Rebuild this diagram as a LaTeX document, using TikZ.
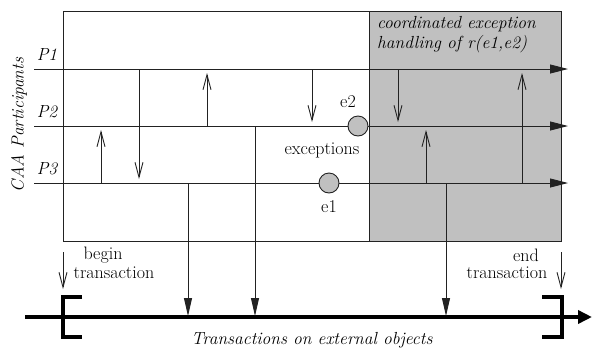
\documentclass[tikz,border=0pt]{standalone}
\usetikzlibrary{arrows.meta}
\definecolor{regiongray}{HTML}{C0C0C0}
\definecolor{linegray}{HTML}{222222}
\tikzset{
  thinline/.style={draw=linegray, line width=0.9pt},
  lifeline/.style={thinline, -{Triangle[length=18pt,width=9pt]}},
  msg/.style={thinline, -{Straight Barb[length=15pt,width=8pt,line width=0.9pt]}, shorten >=4pt},
  tomsg/.style={thinline, -{Triangle[length=18pt,width=8pt]}},
  thickbar/.style={draw=black, line width=4pt},
  bracket/.style={draw=black, line width=4pt, line join=miter, line cap=butt},
  exc/.style={circle, draw=linegray, fill=regiongray, line width=0.9pt, minimum size=20pt, inner sep=0pt},
  lbl/.style={inner sep=0pt},
  itl/.style={lbl, font=\fontsize{17.5}{20}\selectfont\itshape},
}
\begin{document}
\begin{tikzpicture}[x=1pt,y=-1pt, font=\fontsize{18}{20}\selectfont]
\useasboundingbox (0,0) rectangle (592,349);
% participants area and exception handling region
\draw[thinline] (63,11) rectangle (561,241);
\filldraw[thinline, fill=regiongray] (369,11) rectangle (561,241);
\node[itl, anchor=north west, align=left] (cehtext) at (377,16)
  {coordinated exception\\handling of r(e1,e2)};
% lifelines
\coordinate (p1s) at (34,69);  \coordinate (p1e) at (568,69);
\coordinate (p2s) at (34,126); \coordinate (p2e) at (568,126);
\coordinate (p3s) at (34,183); \coordinate (p3e) at (568,183);
\draw[lifeline] (p1s) -- (p1e);
\draw[lifeline] (p2s) -- (p2e);
\draw[lifeline] (p3s) -- (p3e);
\node[itl] (P1) at (47,55) {P1};
\node[itl] (P2) at (47,112) {P2};
\node[itl] (P3) at (47,169) {P3};
\node[itl, rotate=90] (caa) at (19,125) {CAA Participants};
% messages between participants
\foreach \n/\x/\ya/\yb in {m1/101/183/126, m2/139/69/183, m3/207/126/69, m4/312/69/126,
                           m5/398/69/126, m6/426/183/126, m7/522/183/69}{
  \coordinate (\n a) at (\x,\ya);
  \coordinate (\n b) at (\x,\yb);
  \draw[msg] (\n a) -- (\n b);
}
% external object bar
\coordinate (bars) at (25,317);
\coordinate (bare) at (592,317);
\draw[thickbar, -{Triangle[length=14pt,width=13pt]}] (bars) -- (bare);
\draw[bracket] (82,297) -- (63,297) -- (63,337) -- (82,337);
\draw[bracket] (542,297) -- (562,297) -- (562,337) -- (542,337);
% calls on external objects
\foreach \n/\x/\ya in {t1/188/183, t2/255/126, t3/446/183}{
  \coordinate (\n a) at (\x,\ya);
  \coordinate (\n b) at (\x,316);
  \draw[tomsg] (\n a) -- (\n b);
}
% exceptions
\node[exc] (e2) at (358,126) {};
\node[exc] (e1) at (329,183) {};
\node[lbl] (e2l) at (348,102) {e2};
\node[lbl] (excl) at (322,150) {exceptions};
\node[lbl] (e1l) at (329,207) {e1};
% begin / end transaction
\node[lbl] (begl) at (103,255) {begin};
\node[lbl] (begl2) at (114,273) {transaction};
\node[lbl] (endl) at (526,255) {end};
\node[lbl] (endl2) at (507,273) {transaction};
\coordinate (bta) at (63,252); \coordinate (btb) at (63,289);
\coordinate (eta) at (561,252); \coordinate (etb) at (561,289);
\draw[thinline, -{Straight Barb[length=15pt,width=8pt,line width=0.9pt]}] (bta) -- (btb);
\draw[thinline, -{Straight Barb[length=15pt,width=8pt,line width=0.9pt]}] (eta) -- (etb);
\node[itl] (extl) at (312,340) {Transactions on external objects};
\end{tikzpicture}
\end{document}
